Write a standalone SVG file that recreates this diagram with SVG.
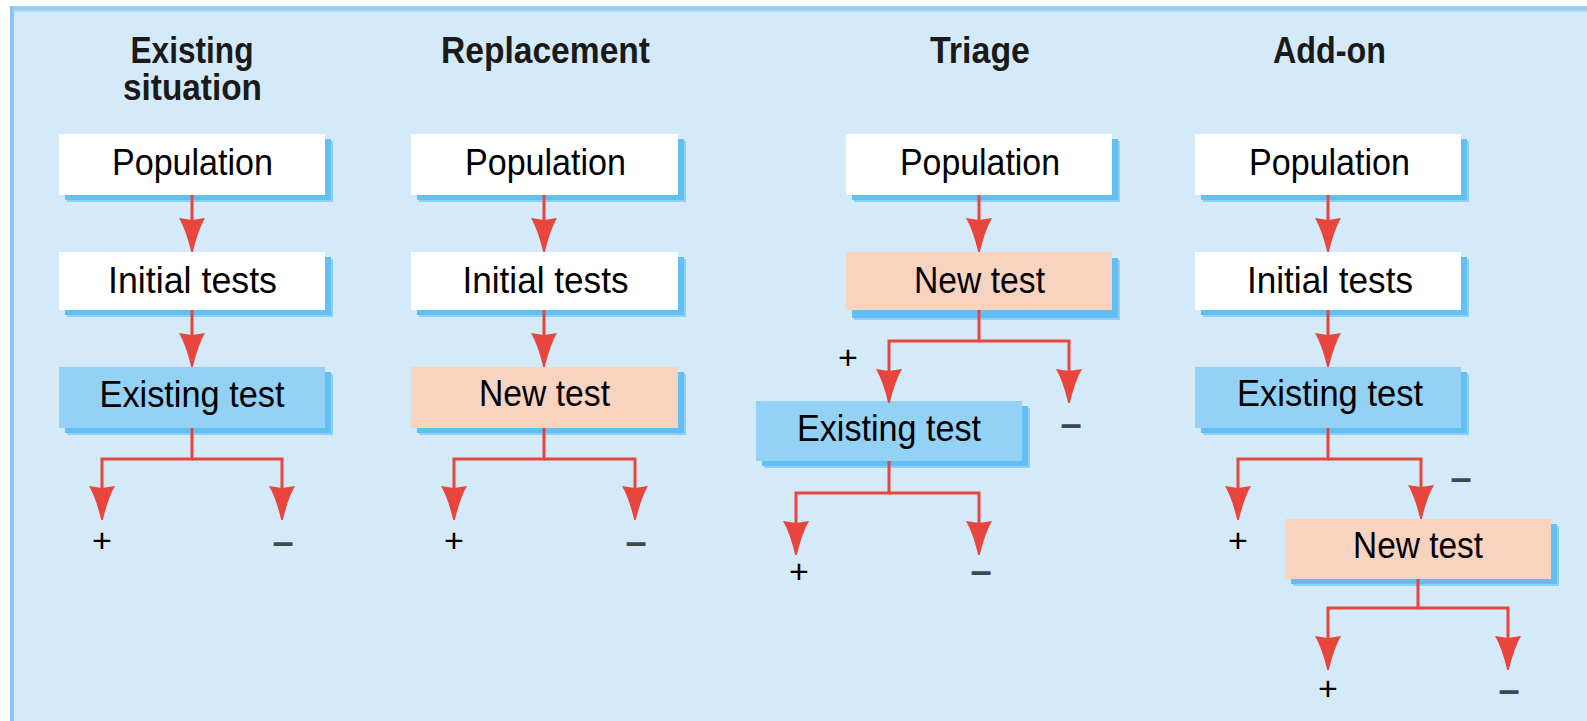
<svg xmlns="http://www.w3.org/2000/svg" width="1587" height="721" viewBox="0 0 1587 721">
<style>
.t{font-family:"Liberation Sans",Arial,sans-serif;font-size:37px;fill:#000;text-anchor:middle}
.h{font-family:"Liberation Sans",Arial,sans-serif;font-size:37px;font-weight:bold;fill:#1a1a1a;text-anchor:middle}
.pm{font-family:"Liberation Sans",Arial,sans-serif;font-size:34px;fill:#000;text-anchor:middle}
.mn{font-family:"Liberation Sans",Arial,sans-serif;font-size:38px;font-weight:bold;fill:#3c4a50;text-anchor:middle}
.w{fill:#ffffff}
.b{fill:#93d1f5}
.p{fill:#f7d3c0}
.s1{fill:#8fd0f6}
.s2{fill:#62bff3}
.c{fill:none;stroke:#e8453c;stroke-width:3;stroke-linejoin:miter}
.a{marker-end:url(#ah)}
</style>
<defs>
<marker id="ah" markerUnits="userSpaceOnUse" viewBox="0 -14 35 28" refX="30" refY="0" markerWidth="35" markerHeight="28" orient="auto">
<path d="M0 -13 L2 0 L0 13 Q12 6 34 0.8 L34 -0.8 Q12 -6 0 -13 Z" fill="#e8453c"/>
</marker>
</defs>
<rect x="0" y="0" width="1587" height="721" fill="#ffffff"/>
<rect x="10" y="6" width="1577" height="715" fill="#d4eaf8"/>
<rect x="10" y="6" width="1577" height="4" fill="#9ccdf2"/>
<rect x="10" y="10" width="1577" height="2" fill="#b6dbf5"/>
<rect x="10" y="6" width="4" height="715" fill="#8dc5f2"/>

<g id="titles">
<text class="h" x="192" y="63" textLength="123" lengthAdjust="spacingAndGlyphs">Existing</text>
<text class="h" x="192.5" y="100" textLength="139" lengthAdjust="spacingAndGlyphs">situation</text>
<text class="h" x="545.5" y="63" textLength="209" lengthAdjust="spacingAndGlyphs">Replacement</text>
<text class="h" x="980" y="63" textLength="100" lengthAdjust="spacingAndGlyphs">Triage</text>
<text class="h" x="1329.5" y="63" textLength="113" lengthAdjust="spacingAndGlyphs">Add-on</text>
</g>

<!-- Column 1 -->
<g id="c1-population">
<rect class="s1" x="67" y="141" width="266" height="61"/><rect class="s2" x="65" y="139" width="266" height="61"/>
<rect class="w" x="59" y="134" width="266" height="61"/>
<text class="t" x="192.5" y="175" textLength="161" lengthAdjust="spacingAndGlyphs">Population</text>
</g>
<g id="c1-initial">
<rect class="s1" x="67" y="259" width="266" height="58"/><rect class="s2" x="65" y="257" width="266" height="58"/>
<rect class="w" x="59" y="252" width="266" height="58"/>
<text class="t" x="192.5" y="293" textLength="169" lengthAdjust="spacingAndGlyphs">Initial tests</text>
</g>
<g id="c1-existing">
<rect class="s1" x="67" y="374" width="266" height="61"/><rect class="s2" x="65" y="372" width="266" height="61"/>
<rect class="b" x="59" y="367" width="266" height="61"/>
<text class="t" x="192" y="407" textLength="185" lengthAdjust="spacingAndGlyphs">Existing test</text>
</g>
<g id="c1-results">
<text class="pm" x="102" y="552">+</text>
<text class="mn" x="283" y="555">–</text>
</g>

<!-- Column 2 -->
<g id="c2-population">
<rect class="s1" x="419" y="141" width="267" height="61"/><rect class="s2" x="417" y="139" width="267" height="61"/>
<rect class="w" x="411" y="134" width="267" height="61"/>
<text class="t" x="545.5" y="175" textLength="161" lengthAdjust="spacingAndGlyphs">Population</text>
</g>
<g id="c2-initial">
<rect class="s1" x="419" y="259" width="267" height="58"/><rect class="s2" x="417" y="257" width="267" height="58"/>
<rect class="w" x="411" y="252" width="267" height="58"/>
<text class="t" x="545.5" y="293" textLength="166" lengthAdjust="spacingAndGlyphs">Initial tests</text>
</g>
<g id="c2-new">
<rect class="s1" x="419" y="374" width="267" height="61"/><rect class="s2" x="417" y="372" width="267" height="61"/>
<rect class="p" x="411" y="367" width="267" height="61"/>
<text class="t" x="544.5" y="406" textLength="131" lengthAdjust="spacingAndGlyphs">New test</text>
</g>
<g id="c2-results">
<text class="pm" x="454" y="552">+</text>
<text class="mn" x="636" y="555">–</text>
</g>

<!-- Column 3 -->
<g id="c3-population">
<rect class="s1" x="854" y="141" width="266" height="61"/><rect class="s2" x="852" y="139" width="266" height="61"/>
<rect class="w" x="846" y="134" width="266" height="61"/>
<text class="t" x="980" y="175" textLength="160" lengthAdjust="spacingAndGlyphs">Population</text>
</g>
<g id="c3-new">
<rect class="s1" x="854" y="260" width="266" height="60"/><rect class="s2" x="852" y="258" width="266" height="60"/>
<rect class="p" x="846" y="252" width="266" height="58"/>
<text class="t" x="979.5" y="293" textLength="131" lengthAdjust="spacingAndGlyphs">New test</text>
</g>
<g id="c3-existing">
<rect class="s1" x="764" y="408" width="266" height="60"/><rect class="s2" x="762" y="406" width="266" height="60"/>
<rect class="b" x="756" y="401" width="266" height="60"/>
<text class="t" x="889" y="441" textLength="184" lengthAdjust="spacingAndGlyphs">Existing test</text>
</g>
<g id="c3-results">
<text class="pm" x="848" y="369">+</text>
<text class="mn" x="1071" y="437">–</text>
<text class="pm" x="799" y="583">+</text>
<text class="mn" x="981" y="584">–</text>
</g>

<!-- Column 4 -->
<g id="c4-population">
<rect class="s1" x="1203" y="141" width="266" height="61"/><rect class="s2" x="1201" y="139" width="266" height="61"/>
<rect class="w" x="1195" y="134" width="266" height="61"/>
<text class="t" x="1329.5" y="175" textLength="161" lengthAdjust="spacingAndGlyphs">Population</text>
</g>
<g id="c4-initial">
<rect class="s1" x="1203" y="259" width="266" height="58"/><rect class="s2" x="1201" y="257" width="266" height="58"/>
<rect class="w" x="1195" y="252" width="266" height="58"/>
<text class="t" x="1330" y="293" textLength="166" lengthAdjust="spacingAndGlyphs">Initial tests</text>
</g>
<g id="c4-existing">
<rect class="s1" x="1203" y="374" width="266" height="61"/><rect class="s2" x="1201" y="372" width="266" height="61"/>
<rect class="b" x="1195" y="367" width="266" height="61"/>
<text class="t" x="1330" y="406" textLength="186" lengthAdjust="spacingAndGlyphs">Existing test</text>
</g>
<g id="c4-new">
<rect class="s1" x="1293" y="526" width="266" height="60"/><rect class="s2" x="1291" y="524" width="266" height="60"/>
<rect class="p" x="1285" y="519" width="266" height="60"/>
<text class="t" x="1418" y="558" textLength="130" lengthAdjust="spacingAndGlyphs">New test</text>
</g>
<g id="c4-results">
<text class="pm" x="1238" y="552">+</text>
<text class="mn" x="1461" y="491">–</text>
<text class="pm" x="1328" y="700">+</text>
<text class="mn" x="1509" y="703">–</text>
</g>

<g id="connectors">
<path class="c a" d="M192 195 V248"/>
<path class="c a" d="M192 310 V363"/>
<path class="c a" d="M192 428 V459 H102 V516"/>
<path class="c a" d="M192 459 H282 V516"/>

<path class="c a" d="M544 195 V248"/>
<path class="c a" d="M544 310 V363"/>
<path class="c a" d="M544 428 V459 H454 V516"/>
<path class="c a" d="M544 459 H635 V516"/>

<path class="c a" d="M979 195 V248"/>
<path class="c a" d="M979 310 V341 H889 V399"/>
<path class="c a" d="M979 341 H1069 V399"/>
<path class="c a" d="M889 461 V493 H796 V551"/>
<path class="c a" d="M889 493 H979 V551"/>

<path class="c a" d="M1328 195 V248"/>
<path class="c a" d="M1328 310 V363"/>
<path class="c a" d="M1328 428 V459 H1238 V516"/>
<path class="c a" d="M1328 459 H1421 V515"/>
<path class="c a" d="M1418 579 V608 H1328 V666"/>
<path class="c a" d="M1418 608 H1508 V666"/>
</g>
</svg>
